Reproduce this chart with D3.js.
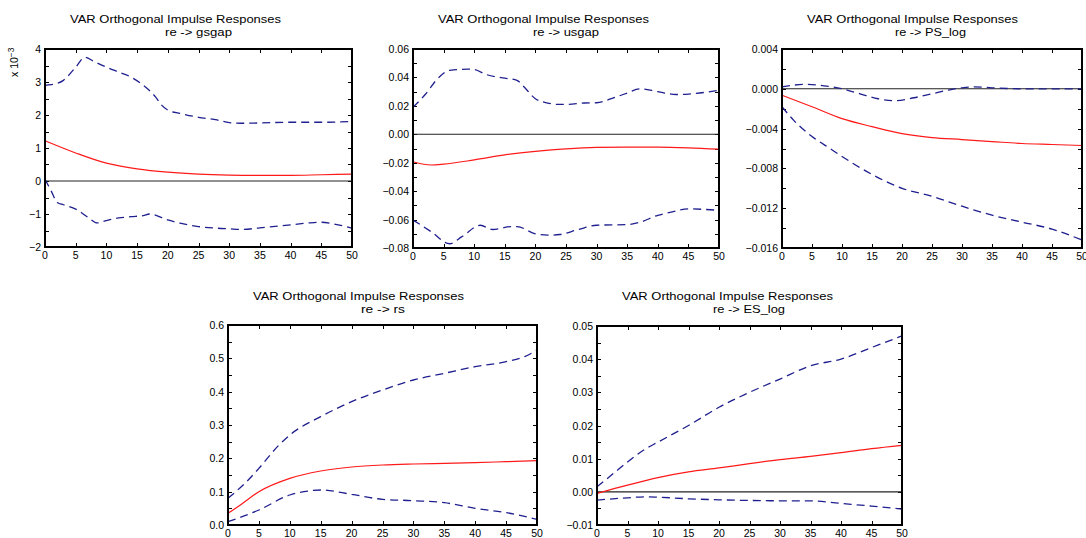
<!DOCTYPE html>
<html><head><meta charset="utf-8">
<script src="https://cdn.jsdelivr.net/npm/d3@7"></script>
<style>body{margin:0;background:#fff}svg{display:block}text{font-family:"Liberation Sans",Arial,sans-serif;fill:#000}</style>
</head><body><svg id="c" width="1086" height="538"></svg>
<script>
// ---- data: [horizon, value] readings ----
const titleMain = "VAR Orthogonal Impulse Responses";
const subtitles = ["re -> gsgap", "re -> usgap", "re -> PS_log", "re -> rs", "re -> ES_log"];
const xTicks = [0,5,10,15,20,25,30,35,40,45,50];

// panel 1 (values in units of 1e-3)
const gsgapResp = [[0,1.22],[5,0.85],[10,0.54],[15,0.37],[20,0.27],[25,0.21],[30,0.18],[35,0.17],[40,0.17],[45,0.19],[50,0.21]];
const gsgapUpper = [[0,2.9],[1,2.92],[3,3.05],[5,3.45],[6.5,3.75],[8,3.62],[10,3.45],[12,3.3],[14,3.15],[16,2.9],[18,2.55],[19,2.3],[20,2.15],[22,2.05],[25,1.93],[28,1.85],[30,1.77],[32,1.75],[35,1.76],[40,1.78],[45,1.78],[50,1.8]];
const gsgapLower = [[0,0.05],[1,-0.3],[2,-0.65],[3,-0.72],[5,-0.85],[7,-1.1],[8.5,-1.27],[10,-1.2],[12,-1.12],[14,-1.08],[16,-1.05],[17,-1.0],[20,-1.18],[22,-1.28],[25,-1.38],[28,-1.43],[30,-1.45],[32,-1.47],[35,-1.42],[40,-1.33],[43,-1.27],[45,-1.25],[47,-1.3],[50,-1.43]];
const gsgapTicks = [-2,-1,0,1,2,3,4];

// panel 2
const usgapResp = [[0,-0.0193],[3,-0.0216],[5,-0.021],[10,-0.018],[15,-0.0145],[20,-0.012],[25,-0.0102],[30,-0.0092],[35,-0.009],[40,-0.009],[45,-0.0095],[50,-0.0105]];
const usgapUpper = [[0,0.019],[2,0.028],[4,0.039],[6,0.045],[9,0.0458],[10,0.0455],[12,0.042],[15,0.0395],[17,0.038],[18,0.034],[20,0.025],[22,0.022],[24,0.021],[25,0.021],[28,0.022],[30,0.0222],[33,0.026],[35,0.029],[37,0.032],[40,0.030],[43,0.028],[45,0.0283],[50,0.031]];
const usgapLower = [[0,-0.0603],[3,-0.0686],[6,-0.077],[8,-0.072],[11,-0.064],[13,-0.067],[16,-0.065],[17,-0.065],[20,-0.070],[22,-0.071],[24,-0.0705],[27,-0.067],[30,-0.064],[35,-0.0635],[37,-0.062],[40,-0.057],[42,-0.055],[45,-0.0525],[50,-0.0535]];
const usgapTicks = [-0.08,-0.06,-0.04,-0.02,0,0.02,0.04,0.06];

// panel 3
const psResp = [[0,-0.00065],[5,-0.0018],[10,-0.003],[15,-0.0038],[20,-0.0045],[25,-0.0049],[30,-0.0051],[35,-0.0053],[40,-0.0055],[45,-0.0056],[50,-0.0057]];
const psUpper = [[0,0.0002],[4,0.00045],[7,0.0003],[10,0.0],[13,-0.0005],[16,-0.001],[19,-0.0012],[22,-0.0009],[25,-0.0005],[28,-0.0001],[30,0.0001],[32,0.0002],[35,0.0001],[40,0.0],[45,0.0],[50,0.0]];
const psLower = [[0,-0.0018],[2,-0.0032],[5,-0.0048],[8,-0.006],[10,-0.0068],[15,-0.0086],[20,-0.01],[25,-0.0108],[30,-0.0118],[35,-0.0127],[40,-0.0134],[45,-0.0141],[50,-0.0152]];
const psTicks = [-0.016,-0.012,-0.008,-0.004,0,0.004];

// panel 4
const rsResp = [[0,0.035],[2,0.06],[5,0.1],[10,0.14],[15,0.162],[20,0.174],[25,0.18],[30,0.183],[35,0.185],[40,0.187],[45,0.19],[50,0.193]];
const rsUpper = [[0,0.08],[3,0.13],[5,0.17],[8,0.235],[10,0.27],[15,0.325],[20,0.37],[25,0.405],[30,0.435],[35,0.455],[40,0.475],[45,0.49],[48,0.505],[50,0.525]];
const rsLower = [[0,0.01],[5,0.045],[10,0.09],[13,0.102],[15,0.105],[20,0.092],[25,0.077],[30,0.073],[35,0.067],[40,0.05],[45,0.037],[50,0.017]];
const rsTicks = [0,0.1,0.2,0.3,0.4,0.5,0.6];

// panel 5
const esResp = [[0,-0.0005],[5,0.002],[10,0.0043],[15,0.006],[20,0.0072],[25,0.0085],[30,0.0097],[35,0.0107],[40,0.0118],[45,0.013],[50,0.014]];
const esUpper = [[0,0.0015],[3,0.006],[5,0.009],[8,0.013],[10,0.015],[15,0.02],[20,0.0255],[25,0.03],[30,0.034],[35,0.038],[40,0.040],[45,0.0435],[50,0.047]];
const esLower = [[0,-0.0025],[5,-0.0018],[8,-0.0015],[10,-0.0016],[15,-0.0021],[20,-0.0024],[25,-0.0026],[30,-0.0027],[35,-0.0027],[40,-0.0035],[45,-0.0043],[50,-0.0052]];
const esTicks = [-0.01,0,0.01,0.02,0.03,0.04,0.05];

// ---- layout ----
const panels = [
  {l:45, r:352, t:49, b:247, dom:[-2,4], minor:0.5, ticks:gsgapTicks, fmt:d3.format("d"), resp:gsgapResp, up:gsgapUpper, lo:gsgapLower, tx:70, sx:165, sw:67, ty:23, zero:true, exp:true},
  {l:413, r:719, t:49, b:248, dom:[-0.08,0.06], minor:0.01, ticks:usgapTicks, fmt:d3.format(".2f"), resp:usgapResp, up:usgapUpper, lo:usgapLower, tx:438, sx:533, sw:66, ty:23, zero:true},
  {l:782, r:1082, t:49, b:248, dom:[-0.016,0.004], minor:0.002, ticks:psTicks, fmt:d3.format(".3f"), resp:psResp, up:psUpper, lo:psLower, tx:807, sx:895, sw:71, ty:23, zero:true},
  {l:228, r:537, t:325, b:525, dom:[0,0.6], minor:0.05, ticks:rsTicks, fmt:d3.format(".1f"), resp:rsResp, up:rsUpper, lo:rsLower, tx:253, sx:361, sw:44, ty:300, zero:false},
  {l:597, r:902, t:326, b:525, dom:[-0.01,0.05], minor:0.005, ticks:esTicks, fmt:d3.format(".2f"), resp:esResp, up:esUpper, lo:esLower, tx:622, sx:713, sw:72, ty:300, zero:true}
];

const svg = d3.select("#c");
const minus = s => s.replace("-", "\u2212");

panels.forEach((p,i) => {
  const g = svg.append("g");
  const x = d3.scaleLinear().domain([0,50]).range([p.l,p.r]);
  const y = d3.scaleLinear().domain(p.dom).range([p.b,p.t]);
  // titles
  g.append("text").attr("x",p.tx).attr("y",p.ty).attr("font-size",11.5).attr("textLength",211).attr("lengthAdjust","spacingAndGlyphs").text(titleMain);
  g.append("text").attr("x",p.sx).attr("y",p.ty+13).attr("font-size",11).attr("textLength",p.sw).attr("lengthAdjust","spacingAndGlyphs").text(subtitles[i]);
  if (p.exp) {
    const e = g.append("text").attr("transform",`translate(${p.l-27},${p.t+28}) rotate(-90)`).attr("font-size",10.5);
    e.append("tspan").text("x 10");
    e.append("tspan").attr("dy",-4).attr("font-size",8.5).text("\u22123");
  }
  // minor ticks
  const n = Math.round((p.dom[1]-p.dom[0])/p.minor);
  const minorVals = d3.range(n+1).map(k => p.dom[0]+k*p.minor);
  const tk = g.append("g").attr("stroke","#000").attr("stroke-width",1);
  minorVals.forEach(v => {
    const yy = Math.round(y(v))+0.5;
    tk.append("line").attr("x1",p.l).attr("x2",p.l+4).attr("y1",yy).attr("y2",yy);
    tk.append("line").attr("x1",p.r-4).attr("x2",p.r).attr("y1",yy).attr("y2",yy);
  });
  xTicks.forEach(v => {
    const xx = Math.round(x(v))+0.5;
    tk.append("line").attr("x1",xx).attr("x2",xx).attr("y1",p.b).attr("y2",p.b-4);
    tk.append("line").attr("x1",xx).attr("x2",xx).attr("y1",p.t).attr("y2",p.t+4);
  });
  // labels
  p.ticks.forEach(v => {
    g.append("text").attr("x",p.l-4).attr("y",y(v)+4).attr("text-anchor","end").attr("font-size",10.5).text(minus(p.fmt(Math.abs(v)<1e-12?0:v)));
  });
  xTicks.forEach(v => {
    g.append("text").attr("x",x(v)).attr("y",p.b+12).attr("text-anchor","middle").attr("font-size",10.5).text(v);
  });
  // zero line
  if (p.zero) g.append("line").attr("x1",p.l).attr("x2",p.r).attr("y1",y(0)).attr("y2",y(0)).attr("stroke","#222").attr("stroke-width",1.1);
  const line = d3.line().x(d=>x(d[0])).y(d=>y(d[1])).curve(d3.curveMonotoneX);
  [p.up,p.lo].forEach(s => g.append("path").attr("d",line(s)).attr("fill","none").attr("stroke","#1f1f8f").attr("stroke-width",1.3).attr("stroke-dasharray","8,5"));
  g.append("path").attr("d",line(p.resp)).attr("fill","none").attr("stroke","#ff1a1a").attr("stroke-width",1.2);
  // frame
  g.append("rect").attr("x",p.l).attr("y",p.t).attr("width",p.r-p.l).attr("height",p.b-p.t).attr("fill","none").attr("stroke","#000").attr("stroke-width",2);
});
</script></body></html>
